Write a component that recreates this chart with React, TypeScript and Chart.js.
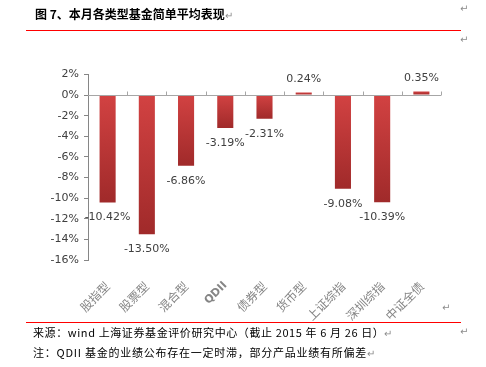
import React, { useEffect, useRef } from "react";
import { Chart, registerables } from "chart.js";

Chart.register(...registerables);

const categories = ["股指型", "股票型", "混合型", "QDII", "债券型", "货币型", "上证综指", "深圳综指", "中证全债"];
const values = [-10.42, -13.5, -6.86, -3.19, -2.31, 0.24, -9.08, -10.39, 0.35];
const yTicks = [2, 0, -2, -4, -6, -8, -10, -12, -14, -16];

const title = "图 7、本月各类型基金简单平均表现";
const source = "来源：wind 上海证券基金评价研究中心（截止 2015 年 6 月 26 日）";
const note = "注：QDII 基金的业绩公布存在一定时滞，部分产品业绩有所偏差";

const W = 486;
const H = 367;
const AXIS_LEFT = 88;
const AXIS_RIGHT = 441;
const TOP = 74.4;
const BOTTOM = 260;

const axisPlugin = {
  id: "customAxes",
  afterDatasetsDraw(chart: any) {
    const ctx = chart.ctx;
    const y = chart.scales.y;
    const y0 = Math.round(y.getPixelForValue(0)) + 0.5;
    ctx.save();
    ctx.strokeStyle = "#a6a6a6";
    ctx.lineWidth = 1;
    ctx.beginPath();
    ctx.moveTo(chart.chartArea.left, y0);
    ctx.lineTo(chart.chartArea.right, y0);
    const n = categories.length;
    const step = (chart.chartArea.right - chart.chartArea.left) / n;
    for (let i = 1; i <= n; i++) {
      const tx = Math.round(chart.chartArea.left + step * i) + 0.5;
      ctx.moveTo(tx, y0);
      ctx.lineTo(tx, y0 - 4);
    }
    ctx.stroke();
    ctx.font = "11px 'DejaVu Sans'";
    ctx.fillStyle = "#404040";
    ctx.textAlign = "center";
    ctx.textBaseline = "middle";
    const meta = chart.getDatasetMeta(0);
    meta.data.forEach((el: any, i: number) => {
      const v = values[i];
      const py = v < 0 ? el.y + 15 : el.y - 13;
      ctx.fillText(v.toFixed(2) + "%", el.x, py);
    });
    ctx.restore();
  },
};

export default function App() {
  const ref = useRef<HTMLCanvasElement>(null);
  useEffect(() => {
    document.body.style.margin = "0";
    const canvas = ref.current!;
    const chart = new Chart(canvas, {
      type: "bar",
      data: {
        labels: categories,
        datasets: [
          {
            data: values,
            barPercentage: 0.41,
            categoryPercentage: 1,
            backgroundColor: (c: any) => {
              const ch = c.chart;
              const ys = ch.scales && ch.scales.y;
              if (!ys || c.parsed == null || c.parsed.y == null) return "#c03838";
              const a = ys.getPixelForValue(0);
              const b = ys.getPixelForValue(c.parsed.y);
              if (!isFinite(a) || !isFinite(b)) return "#c03838";
              const top = Math.min(a, b);
              const bot = Math.max(a, b);
              const g = ch.ctx.createLinearGradient(0, top, 0, bot + 0.01);
              g.addColorStop(0, "#d24242");
              g.addColorStop(1, "#a02a2a");
              return g;
            },
          },
        ],
      },
      options: {
        animation: false,
        responsive: false,
        layout: { padding: { left: 0, right: W - AXIS_RIGHT, top: TOP, bottom: 0 } },
        plugins: { legend: { display: false }, tooltip: { enabled: false } },
        scales: {
          x: {
            grid: { display: false },
            border: { display: false },
            ticks: {
              minRotation: 45,
              maxRotation: 45,
              padding: 11,
              color: "#858585",
              font: (c: any) =>
                c.index === 3
                  ? { family: "'DejaVu Sans'", size: 11, weight: "bold" }
                  : { family: "'Noto Sans CJK SC'", size: 12 },
            },
            afterFit: (s: any) => {
              s.height = H - BOTTOM;
            },
          },
          y: {
            min: -16,
            max: 2,
            afterBuildTicks: (s: any) => {
              s.ticks = yTicks.map((v) => ({ value: v }));
            },
            grid: { display: true, drawOnChartArea: false, drawTicks: true, tickLength: 4, color: "#868686" },
            border: { display: true, color: "#868686" },
            ticks: {
              padding: 5,
              color: "#404040",
              font: { family: "'DejaVu Sans'", size: 11 },
              callback: (v: any) => v + "%",
            },
            afterFit: (s: any) => {
              s.width = AXIS_LEFT;
            },
          },
        },
      },
      plugins: [axisPlugin],
    });
    return () => chart.destroy();
  }, []);

  const txt: React.CSSProperties = {
    position: "absolute",
    whiteSpace: "nowrap",
    fontFamily: "'Noto Sans CJK SC'",
    lineHeight: 1,
  };
  const mark: React.CSSProperties = { ...txt, color: "#8c8c8c", fontSize: 10, fontFamily: "'DejaVu Sans'" };

  return (
    <div style={{ position: "relative", width: W, height: H, background: "#fff", overflow: "hidden" }}>
      <canvas ref={ref} width={W} height={H} style={{ position: "absolute", left: 0, top: 0 }} />
      <div style={{ ...txt, left: 35, top: 8, fontSize: 12, fontWeight: "bold", color: "#000" }}>
        {title}
        <span style={{ color: "#8c8c8c", fontWeight: "normal", fontSize: 10 }}>↵</span>
      </div>
      <div style={{ position: "absolute", left: 26, top: 29.5, width: 435, height: 1.5, background: "#ff0000" }} />
      <div style={{ ...mark, left: 460, top: 4 }}>↵</div>
      <div style={{ ...mark, left: 460, top: 35 }}>↵</div>
      <div style={{ ...mark, left: 442, top: 303 }}>↵</div>
      <div style={{ position: "absolute", left: 26, top: 321.5, width: 435, height: 1.5, background: "#ff0000" }} />
      <div style={{ ...txt, left: 33, top: 327, fontSize: 11, color: "#000", letterSpacing: "0.6px" }}>
        {source}
        <span style={{ color: "#8c8c8c", fontSize: 10 }}>↵</span>
      </div>
      <div style={{ ...mark, left: 460, top: 327 }}>↵</div>
      <div style={{ ...txt, left: 33, top: 347, fontSize: 11, color: "#000", letterSpacing: "0.75px" }}>
        {note}
        <span style={{ color: "#8c8c8c", fontSize: 10 }}>↵</span>
      </div>
    </div>
  );
}
